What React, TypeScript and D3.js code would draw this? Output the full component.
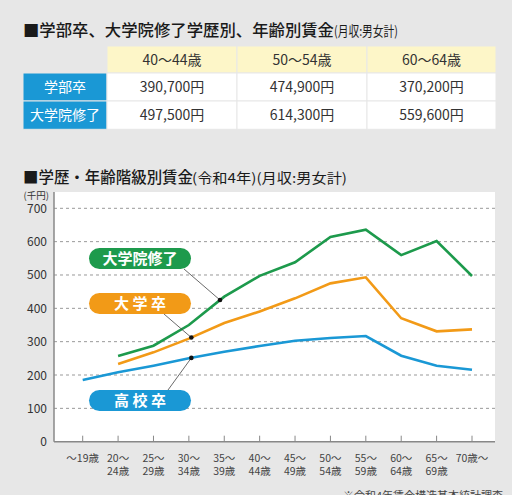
import React from "react";
import * as d3 from "d3";

const tableCols = ["40〜44歳", "50〜54歳", "60〜64歳"];
const tableRows = ["学部卒", "大学院修了"];
const tableValues = [
  ["390,700円", "474,900円", "370,200円"],
  ["497,500円", "614,300円", "559,600円"],
];

const categories = [
  "〜19歳", "20〜\n24歳", "25〜\n29歳", "30〜\n34歳", "35〜\n39歳", "40〜\n44歳",
  "45〜\n49歳", "50〜\n54歳", "55〜\n59歳", "60〜\n64歳", "65〜\n69歳", "70歳〜",
];
const graduate = [null, 257, 288, 350, 435, 497.5, 538, 614.3, 636, 559.6, 602, 497];
const university = [null, 233, 268, 309, 356, 390.7, 430, 474.9, 493, 370.2, 331, 337];
const highSchool = [185, 208, 228, 250, 270, 287, 303, 311, 317, 258, 228, 216];
const yTicks = [0, 100, 200, 300, 400, 500, 600, 700];

const seriesList = [
  { name: "大学院修了", label: "大学院修了", values: graduate, color: "#1d9a4c", at: 3.88, pillY: 248, tx: 184, ty: 269 },
  { name: "大学卒", label: "大 学 卒", values: university, color: "#f29a17", at: 3.07, pillY: 293, tx: 164, ty: 314 },
  { name: "高校卒", label: "高 校 卒", values: highSchool, color: "#1a98d5", at: 3.07, pillY: 390, tx: 168, ty: 390 },
];

const FONT = "'Noto Sans CJK JP', 'Noto Sans', sans-serif";

export default function App() {
  const W = 512, H = 495;
  const plotL = 54, plotR = 495, plotT = 192, plotB = 441.7;
  const x = d3.scalePoint<number>().domain(d3.range(categories.length)).range([82.7, 472]);
  const y = d3.scaleLinear().domain([0, 700]).range([plotB, 208.3]);
  const line = d3.line<[number, number | null]>()
    .defined((d) => d[1] != null)
    .x((d) => x(d[0]) as number)
    .y((d) => y(d[1] as number));

  const interp = (vals: (number | null)[], at: number) => {
    const i = Math.floor(at);
    const t = at - i;
    const a = vals[i] as number, b = vals[i + 1] as number;
    const xa = x(i) as number, xb = x(i + 1) as number;
    return [xa + (xb - xa) * t, y(a + (b - a) * t)];
  };

  const colX = [23, 107, 237, 367, 496];
  const rowY = [46, 73, 101, 129.3];

  return (
    <svg width={W} height={H} style={{ position: "absolute", left: 0, top: 0, background: "#e7e7e7" }} fontFamily={FONT}>
      <rect x={0} y={0} width={W} height={H} fill="#e7e7e7" />
      <text x={23} y={36} fontSize={16.3} fill="#1a1a1a" fontWeight={500} textLength={311} lengthAdjust="spacingAndGlyphs">■学部卒、大学院修了学歴別、年齢別賃金</text>
      <text x={334} y={35.5} fontSize={13.5} fill="#1a1a1a" textLength={64} lengthAdjust="spacingAndGlyphs">(月収:男女計)</text>

      {tableCols.map((c, j) => (
        <g key={"h" + j}>
          <rect x={colX[j + 1]} y={rowY[0]} width={colX[j + 2] - colX[j + 1]} height={rowY[1] - rowY[0]} fill="#fdf6c8" stroke="#e7e7e7" strokeWidth={1} />
          <text x={(colX[j + 1] + colX[j + 2]) / 2} y={(rowY[0] + rowY[1]) / 2 + 5} fontSize={14} fill="#333" textAnchor="middle">{c}</text>
        </g>
      ))}
      {tableRows.map((r, i) => (
        <g key={"r" + i}>
          <rect x={colX[0]} y={rowY[i + 1]} width={colX[1] - colX[0]} height={rowY[i + 2] - rowY[i + 1]} fill="#1a98d5" stroke="#e7e7e7" strokeWidth={1} />
          <text x={(colX[0] + colX[1]) / 2} y={(rowY[i + 1] + rowY[i + 2]) / 2 + 5} fontSize={14} fill="#fff" textAnchor="middle">{r}</text>
          {tableValues[i].map((v, j) => (
            <g key={j}>
              <rect x={colX[j + 1]} y={rowY[i + 1]} width={colX[j + 2] - colX[j + 1]} height={rowY[i + 2] - rowY[i + 1]} fill="#fff" stroke="#e7e7e7" strokeWidth={1} />
              <text x={(colX[j + 1] + colX[j + 2]) / 2} y={(rowY[i + 1] + rowY[i + 2]) / 2 + 5} fontSize={14} fill="#333" textAnchor="middle">{v}</text>
            </g>
          ))}
        </g>
      ))}

      <text x={23} y={183} fontSize={15.5} fill="#1a1a1a" fontWeight={500} textLength={170} lengthAdjust="spacingAndGlyphs">■学歴・年齢階級別賃金</text>
      <text x={192} y={182.5} fontSize={13.5} fill="#1a1a1a" textLength={155} lengthAdjust="spacingAndGlyphs">(令和4年)(月収:男女計)</text>

      <rect x={plotL} y={plotT} width={plotR - plotL} height={plotB - plotT} fill="#fff" />
      {yTicks.filter((t) => t > 0).map((t) => (
        <line key={t} x1={plotL} x2={plotR} y1={y(t)} y2={y(t)} stroke="#999" strokeWidth={1} strokeDasharray="3,3" />
      ))}
      {yTicks.map((t) => (
        <text key={"yl" + t} x={47} y={y(t) + 4.5} fontSize={12} fill="#333" textAnchor="end">{t}</text>
      ))}
      <text x={49} y={199} fontSize={9.5} fill="#333" textAnchor="end">(千円)</text>
      <line x1={plotL} x2={plotL} y1={plotT} y2={plotB} stroke="#888" strokeWidth={1.5} />
      <line x1={plotL} x2={plotR} y1={plotB} y2={plotB} stroke="#888" strokeWidth={1.5} />
      {categories.map((c, i) => (
        <g key={"xt" + i}>
          <line x1={x(i)} x2={x(i)} y1={plotB} y2={plotB - 6} stroke="#888" strokeWidth={1} />
          {c.split("\n").map((part, k) => (
            <text key={k} x={x(i)} y={462 + k * 13} fontSize={10.5} fill="#444" textAnchor="middle">{part}</text>
          ))}
        </g>
      ))}

      {seriesList.map((s) => (
        <path key={s.name} d={line(s.values.map((v, i) => [i, v] as [number, number | null])) || ""} fill="none" stroke={s.color} strokeWidth={2.6} strokeLinejoin="miter" />
      ))}

      {seriesList.map((s) => {
        const [dx, dy] = interp(s.values, s.at);
        return (
          <g key={"lab" + s.name}>
            <line x1={s.tx} y1={s.ty} x2={dx} y2={dy} stroke="#444" strokeWidth={0.8} />
            <circle cx={dx} cy={dy} r={2.3} fill="#111" />
            <rect x={89} y={s.pillY} width={102} height={21} rx={10.5} fill={s.color} />
            <text x={140} y={s.pillY + 16} fontSize={15} fill="#fff" fontWeight={700} textAnchor="middle">{s.label}</text>
          </g>
        );
      })}

      <text x={343} y={500} fontSize={11} fill="#444">※令和4年賃金構造基本統計調査</text>
    </svg>
  );
}
